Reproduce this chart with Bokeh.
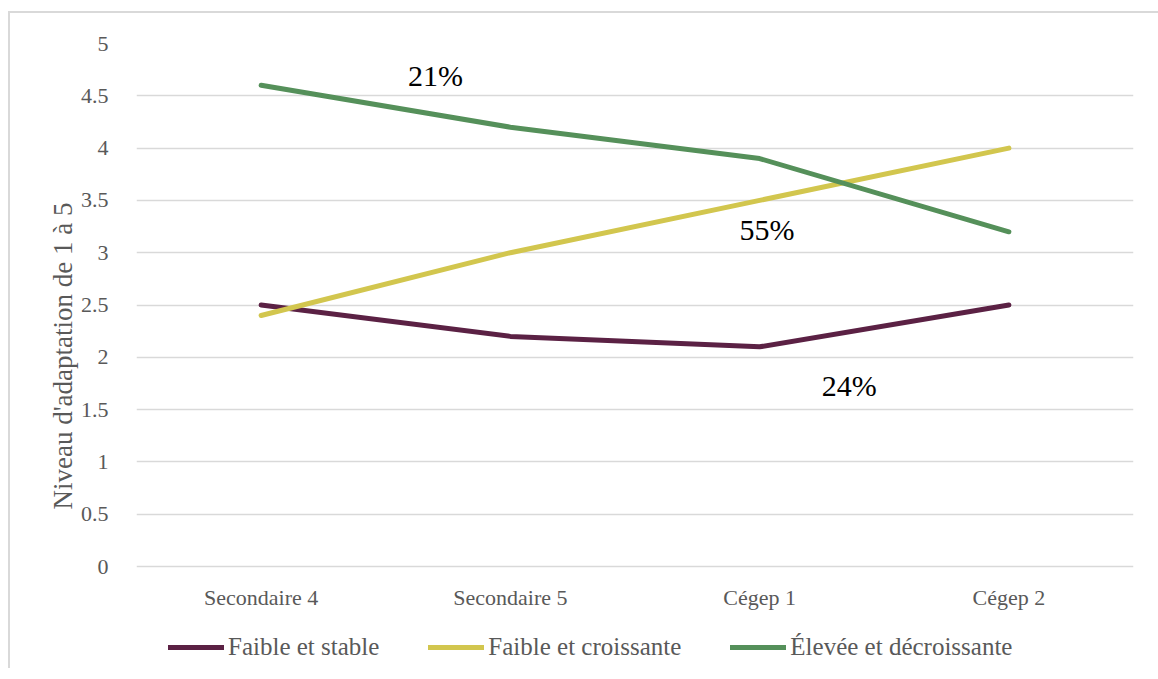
from bokeh.plotting import figure
from bokeh.models import ColumnDataSource, FixedTicker, Legend, LegendItem, Range1d, LabelSet
from bokeh.core.properties import value
from bokeh.embed import file_html
from bokeh.resources import INLINE

categories = ["Secondaire 4", "Secondaire 5", "Cégep 1", "Cégep 2"]
faible_stable = [2.5, 2.2, 2.1, 2.5]
faible_croissante = [2.4, 3.0, 3.5, 4.0]
elevee_decroissante = [4.6, 4.2, 3.9, 3.2]
series_names = ["Faible et stable", "Faible et croissante", "Élevée et décroissante"]
series_colors = ["#5B2144", "#D2C64E", "#55905A"]

y_ticks = [0, 0.5, 1, 1.5, 2, 2.5, 3, 3.5, 4, 4.5, 5]
y_tick_labels = ["0", "0.5", "1", "1.5", "2", "2.5", "3", "3.5", "4", "4.5", "5"]

# annotation labels: category index + offset within category, value
ann_text = ["21%", "55%", "24%"]
ann_cat_index = [0, 2, 2]
ann_cat_offset = [0.70, 0.03, 0.36]
ann_y = [4.69, 3.22, 1.73]

FONT = "Liberation Serif"
GRAY = "#595959"

# geometry: value axis 0..5 spans 523 px; the frame extends below 0 to hold the legend
AXIS_PX = 523
FRAME_H = 625
y_max = 5.0
y_min = y_max - y_max * FRAME_H / AXIS_PX

p = figure(x_range=categories, y_range=Range1d(y_min, y_max),
           frame_width=997, frame_height=FRAME_H,
           output_backend="svg", toolbar_location=None,
           min_border_left=126, min_border_right=25, min_border_top=30, min_border_bottom=0)
p.margin = (11, 0, 0, 8)
p.styles = {"border-left": "2px solid #d9d9d9", "border-top": "2px solid #d9d9d9"}
p.outline_line_color = None
p.background_fill_color = "white"
p.border_fill_color = "white"

p.x_range.range_padding = 0

p.xgrid.grid_line_color = None
p.ygrid.grid_line_color = "#d9d9d9"
p.ygrid.grid_line_width = 1.3
p.yaxis.ticker = FixedTicker(ticks=y_ticks)
p.yaxis.major_label_overrides = {t: l for t, l in zip(y_ticks, y_tick_labels)}

for ax in (p.xaxis, p.yaxis):
    ax.axis_line_color = None
    ax.major_tick_line_color = None
    ax.minor_tick_line_color = None
    ax.major_label_text_font = FONT
    ax.major_label_text_font_size = "22px"
    ax.major_label_text_color = GRAY

p.xaxis.fixed_location = 0
p.xaxis.major_label_standoff = 12
p.yaxis.major_label_standoff = 22
p.yaxis.axis_label = "Niveau d'adaptation de 1 à 5"
p.yaxis.axis_label_text_font = FONT
p.yaxis.axis_label_text_font_size = "27px"
p.yaxis.axis_label_text_font_style = "normal"
p.yaxis.axis_label_text_color = GRAY
p.yaxis.axis_label_standoff = 0

renderers = []
for vals, color in zip([faible_stable, faible_croissante, elevee_decroissante], series_colors):
    src = ColumnDataSource(dict(x=categories, y=vals))
    r = p.line("x", "y", source=src, line_color=color, line_width=5, line_cap="round", line_join="round")
    renderers.append(r)

ann_x = [i + 0.5 + o for i, o in zip(ann_cat_index, ann_cat_offset)]
asrc = ColumnDataSource(dict(x=ann_x, y=ann_y, t=ann_text))
labels = LabelSet(x="x", y="y", text="t", source=asrc, text_font=value(FONT),
                  text_font_size=value("30px"), text_color="black",
                  text_align="center", text_baseline="middle")
p.add_layout(labels)

legend = Legend(items=[LegendItem(label=n, renderers=[r]) for n, r in zip(series_names, renderers)],
                orientation="horizontal", location=(32, 7))
legend.border_line_color = None
legend.background_fill_alpha = 0
legend.padding = 0
legend.margin = 0
legend.spacing = 49
legend.glyph_width = 56
legend.glyph_height = 22
legend.label_standoff = 4
legend.label_text_font = FONT
legend.label_text_font_size = "25px"
legend.label_text_color = GRAY
p.add_layout(legend, "center")

open("out.html", "w").write(file_html(p, INLINE))
